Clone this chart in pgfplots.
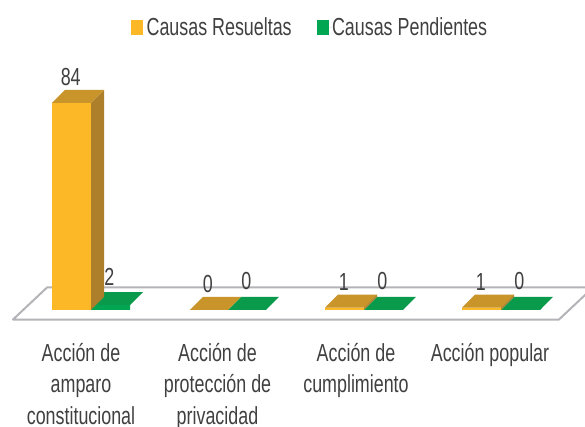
\documentclass[border=0pt]{standalone}
\usepackage{pgfplots}
\pgfplotsset{compat=1.18}
\usepackage{fontspec}
\setmainfont[FakeStretch=0.725]{Liberation Sans}
\definecolor{orF}{HTML}{FDB827}
\definecolor{orS}{HTML}{AE7F2A}
\definecolor{orT}{HTML}{C99429}
\definecolor{grF}{HTML}{00A651}
\definecolor{grT}{HTML}{0A9A4C}
\definecolor{tx}{HTML}{404040}
\definecolor{pl}{HTML}{B4B4B8}
\pgfplotsset{
  sq/.style={legend image code/.code={\path (0pt,0pt) -- (11.5pt,0pt);\fill[##1] (0pt,-5.5pt) rectangle (9pt,5.5pt);}},
  lab/.style 2 args={nodes near coords, every node near coord/.append style={
      anchor=center, yshift=#2, xshift=#1, font=\fontsize{18.5}{20}\selectfont, text=tx,
      /pgf/number format/assume math mode=true}},
  face/.style={fill=#1, draw=none, forget plot}
}
\begin{document}
\begin{tikzpicture}
\useasboundingbox (0,0) rectangle (438.75pt,320.25pt);
\begin{axis}[
  at={(0,0)}, anchor=south west,
  scale only axis, width=438.75pt, height=320.25pt,
  xmin=0, xmax=585, ymin=-47.48, ymax=125.8,
  axis line style={draw=none},
  major tick length=0pt,
  ytick=\empty,
  xtick={81,217.5,356,490},
  xticklabels={{Acción de\\amparo\\constitucional},{Acción de\\protección de\\privacidad},{Acción de\\cumplimiento},{Acción popular}},
  x tick label style={align=center, anchor=north, yshift=63pt, inner sep=0pt,
     font=\fontsize{18.5}{23.5}\selectfont, text=tx},
  legend columns=2,
  legend style={draw=none, fill=none, at={(axis cs:131,114.7)}, anchor=west, inner sep=0pt,
     font=\fontsize{18.5}{20}\selectfont, text=tx,
     /tikz/every even column/.style={column sep=18.75pt},
     nodes={inner sep=0pt, outer sep=0pt, xshift=0pt}},
]
% platform
\addplot[fill=white, draw=pl, line width=1.5pt, line join=round, forget plot]
  coordinates {(13,-3.86)(559,-3.86)(593,9.13)(47,9.13)} --cycle;
% orange front faces
\addplot[ybar, bar width=39, bar shift=-19.5, fill=orF, draw=none, sq, lab={-15.2pt}{19.5pt}]
  coordinates {(91,84)(228,0)(364,1)(501,1)};
\addlegendentry{Causas Resueltas}
% green front faces
\addplot[ybar, bar width=39, bar shift=19.5, fill=grF, draw=none, sq, lab={13.8pt}{21.5pt}]
  coordinates {(91,2)(228,0)(364,0)(501,0)};
\addlegendentry{Causas Pendientes}
% green tops
\addplot[face=grT] coordinates {(91,2)(130,2)(143,7.28)(104,7.28)} --cycle;
\addplot[face=grT] coordinates {(228,0)(266,0)(279,5.28)(241,5.28)} --cycle;
\addplot[face=grT] coordinates {(364,0)(403,0)(416,5.28)(377,5.28)} --cycle;
\addplot[face=grT] coordinates {(501,0)(540,0)(553,5.28)(514,5.28)} --cycle;
% orange sides
\addplot[face=orS] coordinates {(91,0)(104,5.28)(104,89.28)(91,84)} --cycle;
\addplot[face=orS] coordinates {(364,0)(377,5.28)(377,6.28)(364,1)} --cycle;
\addplot[face=orS] coordinates {(501,0)(514,5.28)(514,6.28)(501,1)} --cycle;
% orange tops
\addplot[face=orT] coordinates {(52,84)(91,84)(104,89.28)(65,89.28)} --cycle;
\addplot[face=orT] coordinates {(190,0)(228,0)(241,5.28)(203,5.28)} --cycle;
\addplot[face=orT] coordinates {(325,1)(364,1)(377,6.28)(338,6.28)} --cycle;
\addplot[face=orT] coordinates {(462,1)(501,1)(514,6.28)(475,6.28)} --cycle;
\end{axis}
\end{tikzpicture}
\end{document}
